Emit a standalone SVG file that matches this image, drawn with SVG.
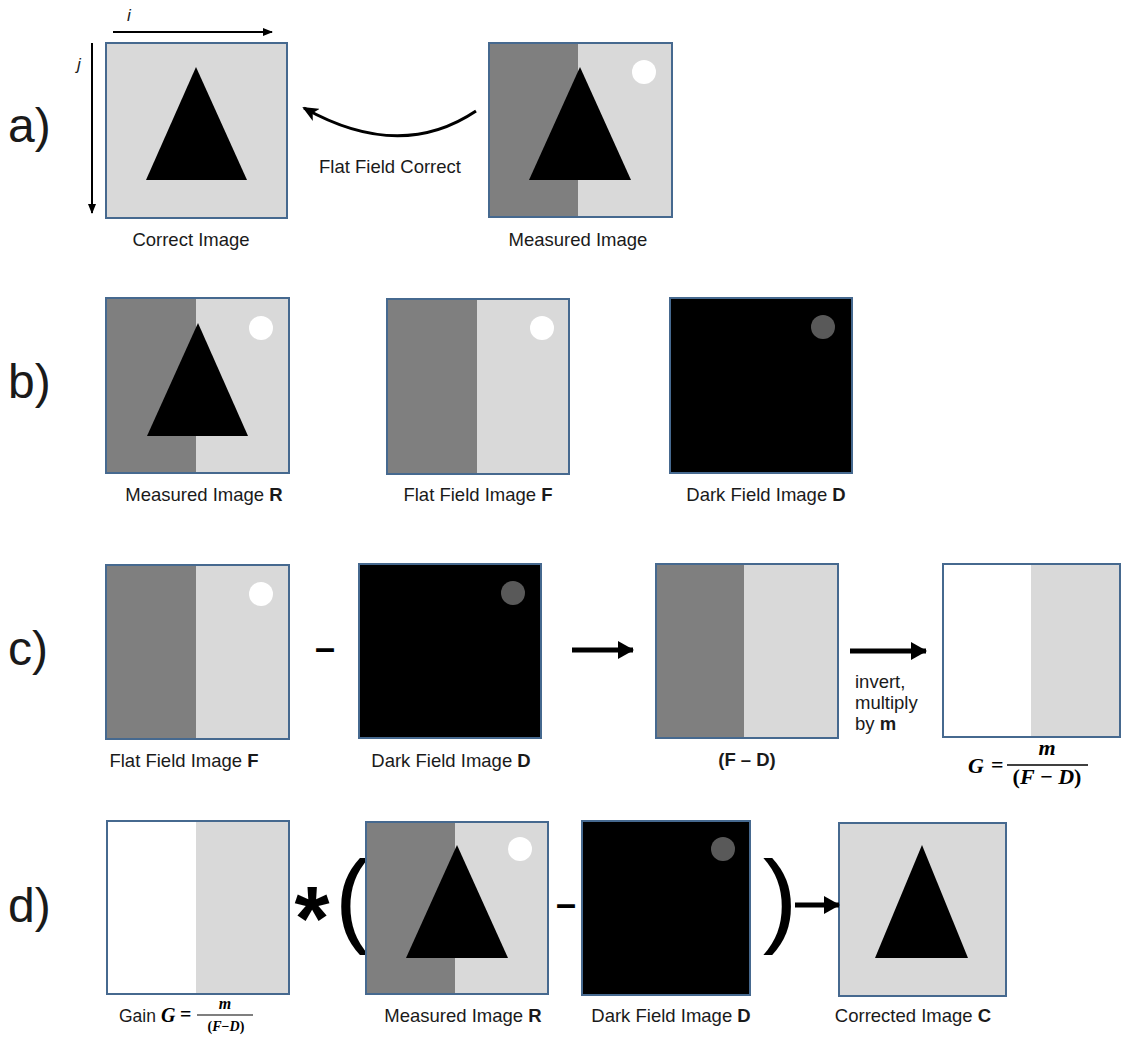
<svg xmlns="http://www.w3.org/2000/svg" width="1126" height="1039" viewBox="0 0 1126 1039">
<style>
.frame{fill:none;stroke:#46698f;stroke-width:2}
.lg{fill:#D9D9D9}
.dg{fill:#7F7F7F}
.wh{fill:#FFFFFF}
.bk{fill:#000000}
.dc{fill:#595959}
.lbl{font-family:"Liberation Sans",Arial,sans-serif;font-size:18.5px;fill:#1a1a1a;text-anchor:middle}
.row{font-family:"Liberation Sans",Arial,sans-serif;font-size:48px;fill:#1a1a1a}
.math{font-family:"Liberation Serif","Times New Roman",serif;font-weight:bold;fill:#000}
.op{font-family:"Liberation Sans",Arial,sans-serif;font-weight:bold;fill:#000;text-anchor:middle}
.par{font-family:"Liberation Sans",Arial,sans-serif;fill:#000;text-anchor:middle}
.ax{fill:none;stroke:#000;stroke-width:2}
.thick{fill:none;stroke:#000;stroke-width:5}
</style>
<defs>
<marker id="ah" markerWidth="10" markerHeight="8" refX="9" refY="4" orient="auto" markerUnits="userSpaceOnUse"><path d="M0,0 L10,4 L0,8 Z" fill="#000"/></marker>
<marker id="ahc" markerWidth="16" markerHeight="14" refX="14" refY="7" orient="auto" markerUnits="userSpaceOnUse"><path d="M0,0 L16,7 L0,14 L4,7 Z" fill="#000"/></marker>
<marker id="ahb" markerWidth="16" markerHeight="18" refX="15" refY="9" orient="auto" markerUnits="userSpaceOnUse"><path d="M0,0 L16,9 L0,18 Z" fill="#000"/></marker>
</defs>

<!-- row letters -->
<text class="row" x="8" y="142">a)</text>
<text class="row" x="8" y="398">b)</text>
<text class="row" x="8" y="665">c)</text>
<text class="row" x="8" y="922">d)</text>

<!-- Row a -->
<g id="a-correct">
<rect class="lg" x="106" y="43" width="181" height="175"/>
<polygon class="bk" points="196,67 146,180 247,180"/>
<rect class="frame" x="106" y="43" width="181" height="175"/>
<text class="lbl" x="191" y="246">Correct Image</text>
</g>
<g id="a-measured">
<rect class="lg" x="489" y="43" width="183" height="174"/>
<rect class="dg" x="489" y="43" width="89" height="174"/>
<polygon class="bk" points="580,67 529,180 631,180"/>
<circle class="wh" cx="644" cy="72" r="12"/>
<rect class="frame" x="489" y="43" width="183" height="174"/>
<text class="lbl" x="578" y="246">Measured Image</text>
</g>

<!-- Row b -->
<g id="b-measured">
<rect class="lg" x="106" y="298" width="183" height="175"/>
<rect class="dg" x="106" y="298" width="90" height="175"/>
<polygon class="bk" points="198,323 147,436 248,436"/>
<circle class="wh" cx="261" cy="328" r="12"/>
<rect class="frame" x="106" y="298" width="183" height="175"/>
<text class="lbl" x="204" y="501">Measured Image <tspan font-weight="bold">R</tspan></text>
</g>
<g id="b-flat">
<rect class="lg" x="387" y="299" width="182" height="175"/>
<rect class="dg" x="387" y="299" width="90" height="175"/>
<circle class="wh" cx="542" cy="328" r="12"/>
<rect class="frame" x="387" y="299" width="182" height="175"/>
<text class="lbl" x="478" y="501">Flat Field Image <tspan font-weight="bold">F</tspan></text>
</g>
<g id="b-dark">
<rect class="bk" x="670" y="298" width="182" height="175"/>
<circle class="dc" cx="823" cy="327" r="12"/>
<rect class="frame" x="670" y="298" width="182" height="175"/>
<text class="lbl" x="766" y="501">Dark Field Image <tspan font-weight="bold">D</tspan></text>
</g>

<!-- Row c -->
<g id="c-flat">
<rect class="lg" x="106" y="565" width="183" height="174"/>
<rect class="dg" x="106" y="565" width="90" height="174"/>
<circle class="wh" cx="261" cy="594" r="12"/>
<rect class="frame" x="106" y="565" width="183" height="174"/>
<text class="lbl" x="184" y="767">Flat Field Image <tspan font-weight="bold">F</tspan></text>
</g>
<text class="op" x="325" y="660" font-size="36">–</text>
<g id="c-dark">
<rect class="bk" x="359" y="564" width="182" height="174"/>
<circle class="dc" cx="513" cy="593" r="12"/>
<rect class="frame" x="359" y="564" width="182" height="174"/>
<text class="lbl" x="451" y="767">Dark Field Image <tspan font-weight="bold">D</tspan></text>
</g>
<g id="c-fminusd">
<rect class="lg" x="656" y="564" width="182" height="174"/>
<rect class="dg" x="656" y="564" width="88" height="174"/>
<rect class="frame" x="656" y="564" width="182" height="174"/>
<text class="lbl" x="747" y="766" font-weight="bold">(F – D)</text>
</g>
<g id="c-gain">
<rect class="wh" x="943" y="564" width="177" height="173"/>
<rect class="lg" x="1031" y="564" width="89" height="173"/>
<rect class="frame" x="943" y="564" width="177" height="173"/>
<text class="math" x="968" y="773" font-size="22" font-style="italic">G</text>
<text class="math" x="991" y="772" font-size="22" font-weight="normal">=</text>
<line x1="1007" y1="765" x2="1088" y2="765" stroke="#000" stroke-width="1.5"/>
<text class="math" x="1047" y="755" font-size="22" font-style="italic" text-anchor="middle">m</text>
<text class="math" x="1047" y="784" font-size="22" text-anchor="middle">(<tspan font-style="italic">F</tspan> − <tspan font-style="italic">D</tspan>)</text>
</g>
<text x="855" y="688" font-family="Liberation Sans, Arial, sans-serif" font-size="18.5" fill="#1a1a1a">invert,</text>
<text x="855" y="709" font-family="Liberation Sans, Arial, sans-serif" font-size="18.5" fill="#1a1a1a">multiply</text>
<text x="855" y="730" font-family="Liberation Sans, Arial, sans-serif" font-size="18.5" fill="#1a1a1a">by <tspan font-weight="bold">m</tspan></text>

<!-- Row d -->
<g id="d-gain">
<rect class="wh" x="107" y="821" width="182" height="173"/>
<rect class="lg" x="196" y="821" width="93" height="173"/>
<rect class="frame" x="107" y="821" width="182" height="173"/>
<text x="119" y="1022" font-family="Liberation Sans, Arial, sans-serif" font-size="17.5" fill="#1a1a1a">Gain</text>
<text class="math" x="161" y="1022" font-size="20" font-style="italic">G</text>
<text class="math" x="180" y="1021" font-size="20" font-weight="normal">=</text>
<line x1="197" y1="1015" x2="253" y2="1015" stroke="#000" stroke-width="1.2"/>
<text class="math" x="225" y="1009" font-size="16" font-style="italic" text-anchor="middle">m</text>
<text class="math" x="226" y="1031" font-size="14" text-anchor="middle">(<tspan font-style="italic">F</tspan>−<tspan font-style="italic">D</tspan>)</text>
</g>
<text class="op" x="312" y="950" font-size="90">*</text>
<text class="par" x="352" y="933" font-size="104">(</text>
<g id="d-measured">
<rect class="lg" x="366" y="822" width="182" height="172"/>
<rect class="dg" x="366" y="822" width="89" height="172"/>
<polygon class="bk" points="457,845 406,958 508,958"/>
<circle class="wh" cx="520" cy="849" r="12"/>
<rect class="frame" x="366" y="822" width="182" height="172"/>
<text class="lbl" x="463" y="1022">Measured Image <tspan font-weight="bold">R</tspan></text>
</g>
<text class="op" x="566" y="916" font-size="36">–</text>
<g id="d-dark">
<rect class="bk" x="582" y="821" width="168" height="174"/>
<circle class="dc" cx="723" cy="849" r="12"/>
<rect class="frame" x="582" y="821" width="168" height="174"/>
<text class="lbl" x="671" y="1022">Dark Field Image <tspan font-weight="bold">D</tspan></text>
</g>
<text class="par" x="780" y="933" font-size="104">)</text>
<g id="d-corrected">
<rect class="lg" x="839" y="823" width="167" height="173"/>
<polygon class="bk" points="922,845 875,958 968,958"/>
<rect class="frame" x="839" y="823" width="167" height="173"/>
<text class="lbl" x="913" y="1022">Corrected Image <tspan font-weight="bold">C</tspan></text>
</g>

<!-- connectors -->
<g id="connectors">
<line class="ax" x1="113" y1="32" x2="272" y2="32" marker-end="url(#ah)"/>
<line class="ax" x1="92" y1="43" x2="92" y2="213" marker-end="url(#ah)"/>
<path d="M476,111 Q400,162 304,108" fill="none" stroke="#000" stroke-width="3" marker-end="url(#ahc)"/>
<line class="thick" x1="572" y1="650" x2="633" y2="650" marker-end="url(#ahb)"/>
<line class="thick" x1="850" y1="651" x2="926" y2="651" marker-end="url(#ahb)"/>
<line class="thick" x1="795" y1="905" x2="839" y2="905" marker-end="url(#ahb)"/>
</g>
<text x="127" y="21" font-family="Liberation Sans, Arial, sans-serif" font-size="17" font-style="italic" fill="#1a1a1a">i</text>
<text x="77" y="70" font-family="Liberation Sans, Arial, sans-serif" font-size="17" font-style="italic" fill="#1a1a1a">j</text>
<text class="lbl" x="390" y="173">Flat Field Correct</text>
</svg>
